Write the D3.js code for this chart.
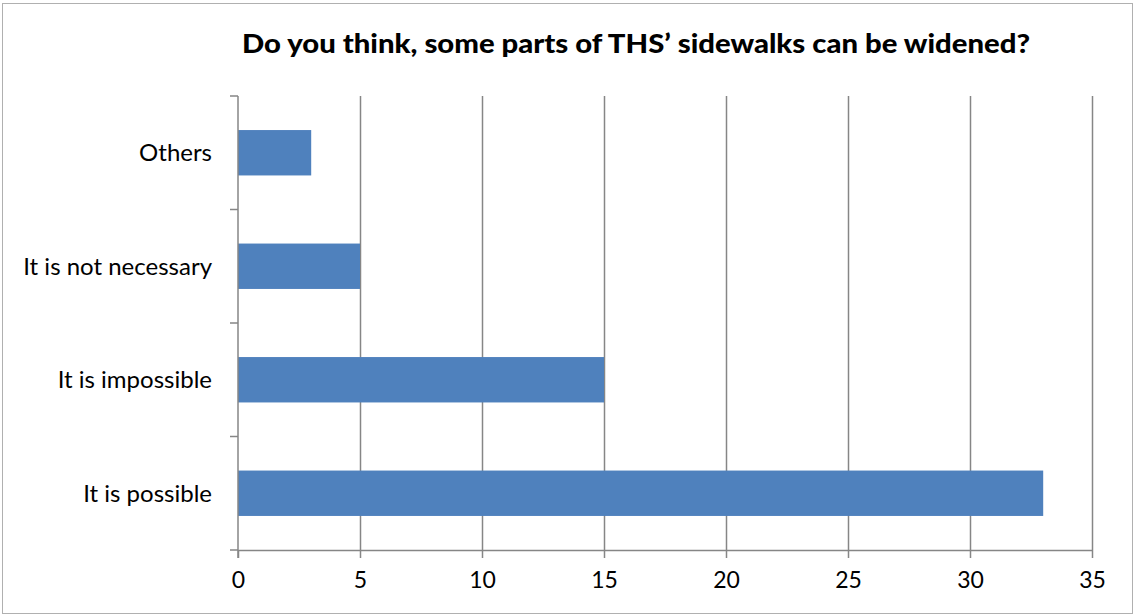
<!DOCTYPE html>
<html><head><meta charset="utf-8">
<script src="https://cdn.jsdelivr.net/npm/d3@7"></script>
<style>body{margin:0;background:#fff}</style>
</head><body>
<svg id="c" width="1135" height="616"></svg>
<script>
const categories = ["It is possible","It is impossible","It is not necessary","Others"];
const values = [33, 15, 5, 3];
const xTicks = [0,5,10,15,20,25,30,35];
const title = "Do you think, some parts of THS\u2019 sidewalks can be widened?";

const svg = d3.select("#c");
const font = "Lato, 'Open Sans', sans-serif";
const margin = {left:238, right:43, top:96, bottom:66};
const W = 1135, H = 616;

svg.append("rect").attr("x",2.5).attr("y",3.5).attr("width",1130).attr("height",610)
  .attr("fill","#fff").attr("stroke","#b0b0b0").attr("stroke-width",1);

const x = d3.scaleLinear().domain([0,35]).range([margin.left, W - margin.right]);
const yEdge = d3.scaleBand().domain(categories.slice().reverse()).range([margin.top, H - margin.bottom]);
const y = d3.scaleBand().domain(categories.slice().reverse()).range([margin.top, H - margin.bottom])
  .paddingInner(0.6).paddingOuter(0.3);

// gridlines
svg.append("g").selectAll("line").data(xTicks.filter(d=>d>0)).join("line")
  .attr("x1",d=>Math.round(x(d))+0.5).attr("x2",d=>Math.round(x(d))+0.5)
  .attr("y1",margin.top).attr("y2",H-margin.bottom)
  .attr("stroke","#868686").attr("stroke-width",1.5);

// bars
svg.append("g").selectAll("rect").data(categories).join("rect")
  .attr("x",x(0)).attr("y",d=>y(d)).attr("height",y.bandwidth())
  .attr("width",(d,i)=>x(values[i])-x(0)).attr("fill","#4F81BD");

// x axis
const xa = svg.append("g").attr("transform",`translate(0,${H-margin.bottom})`)
  .call(d3.axisBottom(x).tickValues(xTicks).tickSize(8).tickSizeOuter(0).tickPadding(14));
xa.select(".domain").attr("stroke","#868686").attr("stroke-width",1.5);
xa.selectAll(".tick line").attr("stroke","#868686").attr("stroke-width",1.5);
xa.selectAll("text").attr("font-family",font).attr("font-size",23).attr("fill","#000");

// y axis: line and ticks at band edges
const yg = svg.append("g");
yg.append("line").attr("x1",x(0)).attr("x2",x(0)).attr("y1",margin.top).attr("y2",H-margin.bottom+8)
  .attr("stroke","#868686").attr("stroke-width",1.5);
const edges = yEdge.domain().map(d=>yEdge(d)).concat([H-margin.bottom]);
yg.selectAll("line.t").data(edges).join("line").attr("class","t")
  .attr("x1",x(0)-8).attr("x2",x(0)).attr("y1",d=>d).attr("y2",d=>d)
  .attr("stroke","#868686").attr("stroke-width",1.5);
yg.selectAll("text").data(categories).join("text")
  .attr("x",x(0)-26).attr("y",d=>yEdge(d)+yEdge.bandwidth()/2).attr("dy","0.35em")
  .attr("text-anchor","end").attr("font-family",font).attr("font-size",24).attr("fill","#000")
  .text(d=>d);

svg.append("text").attr("x",636).attr("y",53).attr("text-anchor","middle")
  .attr("font-family",font).attr("font-weight","900").attr("font-size",27).attr("fill","#000")
  .attr("textLength",788).attr("lengthAdjust","spacingAndGlyphs")
  .text(title);
</script>
</body></html>
